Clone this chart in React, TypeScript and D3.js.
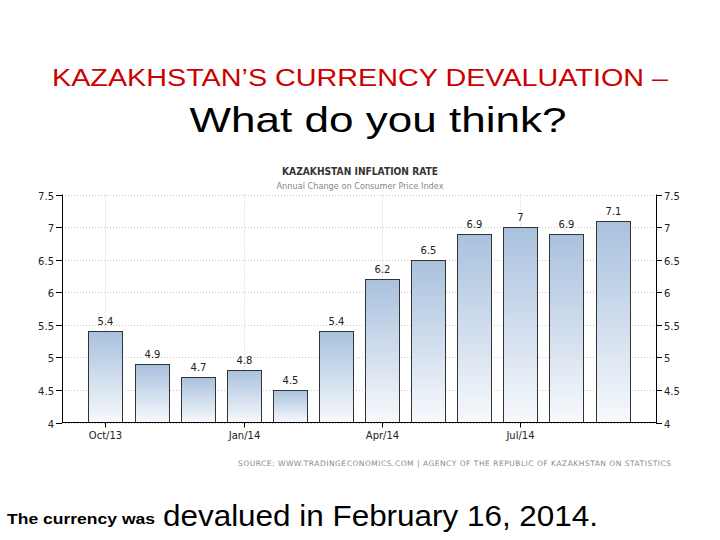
import React from "react";
import * as d3 from "d3";

const months = ["Oct/13","Nov/13","Dec/13","Jan/14","Feb/14","Mar/14","Apr/14","May/14","Jun/14","Jul/14","Aug/14","Sep/14"];
const inflation = [5.4, 4.9, 4.7, 4.8, 4.5, 5.4, 6.2, 6.5, 6.9, 7, 6.9, 7.1];
const xTickLabels = ["Oct/13", "Jan/14", "Apr/14", "Jul/14"];
const yTicks = [4, 4.5, 5, 5.5, 6, 6.5, 7, 7.5];

export default function App() {
  const W = 720, H = 540;
  const left = 62, right = 656, top = 194.5, bottom = 422.5;
  const x = d3.scaleBand<string>().domain(months).range([left, right]).paddingInner(0.263).paddingOuter(0.574);
  const y = d3.scaleLinear().domain([4, 7.5]).range([bottom, top]);
  const bw = x.bandwidth();
  const chartFont = "'DejaVu Sans', Verdana, sans-serif";
  return (
    <svg width={W} height={H} style={{ position: "absolute", left: 0, top: 0, background: "#fff" }}>
      <defs>
        <linearGradient id="barGrad" x1="0" y1="0" x2="0" y2="1">
          <stop offset="0%" stopColor="#a9c1de" />
          <stop offset="100%" stopColor="#f7f9fc" />
        </linearGradient>
      </defs>
      <rect x={0} y={0} width={W} height={H} fill="#fff" />
      {/* slide titles */}
      <text x={360} y={86} textAnchor="middle" fontFamily="'Liberation Sans', Arial, sans-serif" fontSize={23.5} fill="#cc0000" textLength={616} lengthAdjust="spacingAndGlyphs">KAZAKHSTAN’S CURRENCY DEVALUATION –</text>
      <text x={378} y={132} textAnchor="middle" fontFamily="'Liberation Sans', Arial, sans-serif" fontSize={35} fill="#000" textLength={377} lengthAdjust="spacingAndGlyphs">What do you think?</text>

      {/* chart titles */}
      <text x={360} y={175} textAnchor="middle" fontFamily={chartFont} fontWeight="bold" fontSize={10.5} fill="#333" textLength={156} lengthAdjust="spacingAndGlyphs">KAZAKHSTAN INFLATION RATE</text>
      <text x={360} y={189} textAnchor="middle" fontFamily={chartFont} fontSize={8.5} fill="#888" textLength={167} lengthAdjust="spacingAndGlyphs">Annual Change on Consumer Price Index</text>

      {/* gridlines */}
      {yTicks.map((t) => (
        <line key={"g" + t} x1={left} x2={right} y1={Math.round(y(t)) + 0.5} y2={Math.round(y(t)) + 0.5} stroke="#c8c8c8" strokeDasharray="1,2" />
      ))}
      {xTickLabels.map((m) => {
        const cx = Math.round((x(m) as number) + bw / 2) + 0.5;
        return <line key={"v" + m} x1={cx} x2={cx} y1={top} y2={bottom} stroke="#c8c8c8" strokeDasharray="1,2" />;
      })}

      {/* bars */}
      {months.map((m, i) => {
        const bx = Math.round(x(m) as number) + 0.5;
        const by = Math.round(y(inflation[i])) + 0.5;
        return (
          <g key={m}>
            <rect x={bx} y={by} width={Math.round(bw)} height={bottom - by} fill="url(#barGrad)" stroke="#333" strokeWidth={1} />
            <text x={bx + bw / 2} y={by - 7} textAnchor="middle" fontFamily={chartFont} fontSize={10} fill="#222">{String(inflation[i])}</text>
          </g>
        );
      })}

      {/* axes */}
      <line x1={left + 0.5} x2={left + 0.5} y1={top} y2={bottom} stroke="#000" />
      <line x1={right + 0.5} x2={right + 0.5} y1={top} y2={bottom} stroke="#000" />
      <line x1={left} x2={right + 1} y1={bottom} y2={bottom} stroke="#000" />
      {yTicks.map((t) => {
        const ty = Math.round(y(t)) + 0.5;
        return (
          <g key={"t" + t}>
            <line x1={left - 6} x2={left} y1={ty} y2={ty} stroke="#000" />
            <line x1={right} x2={right + 6} y1={ty} y2={ty} stroke="#000" />
            <text x={left - 8} y={ty + 4} textAnchor="end" fontFamily={chartFont} fontSize={10} fill="#222">{String(t)}</text>
            <text x={right + 8} y={ty + 4} textAnchor="start" fontFamily={chartFont} fontSize={10} fill="#222">{String(t)}</text>
          </g>
        );
      })}
      {xTickLabels.map((m) => {
        const cx = Math.round((x(m) as number) + bw / 2) + 0.5;
        return (
          <g key={"x" + m}>
            <line x1={cx} x2={cx} y1={bottom} y2={bottom + 5} stroke="#000" />
            <text x={cx} y={bottom + 16} textAnchor="middle" fontFamily={chartFont} fontSize={10} fill="#222">{m}</text>
          </g>
        );
      })}

      <text x={671} y={466} textAnchor="end" fontFamily={chartFont} fontSize={7.5} fill="#8a8a8a" textLength={433} lengthAdjust="spacing">SOURCE: WWW.TRADINGECONOMICS.COM | AGENCY OF THE REPUBLIC OF KAZAKHSTAN ON STATISTICS</text>

      {/* bottom caption */}
      <text x={7} y={524} fontFamily="'Liberation Sans Narrow', 'Liberation Sans', Arial, sans-serif" fontWeight="bold" fontSize={15} fill="#000" textLength={148} lengthAdjust="spacingAndGlyphs">The currency was</text>
      <text x={163} y={526} fontFamily="'Liberation Sans', Arial, sans-serif" fontSize={29} fill="#000" textLength={435} lengthAdjust="spacingAndGlyphs">devalued in February 16, 2014.</text>
    </svg>
  );
}
